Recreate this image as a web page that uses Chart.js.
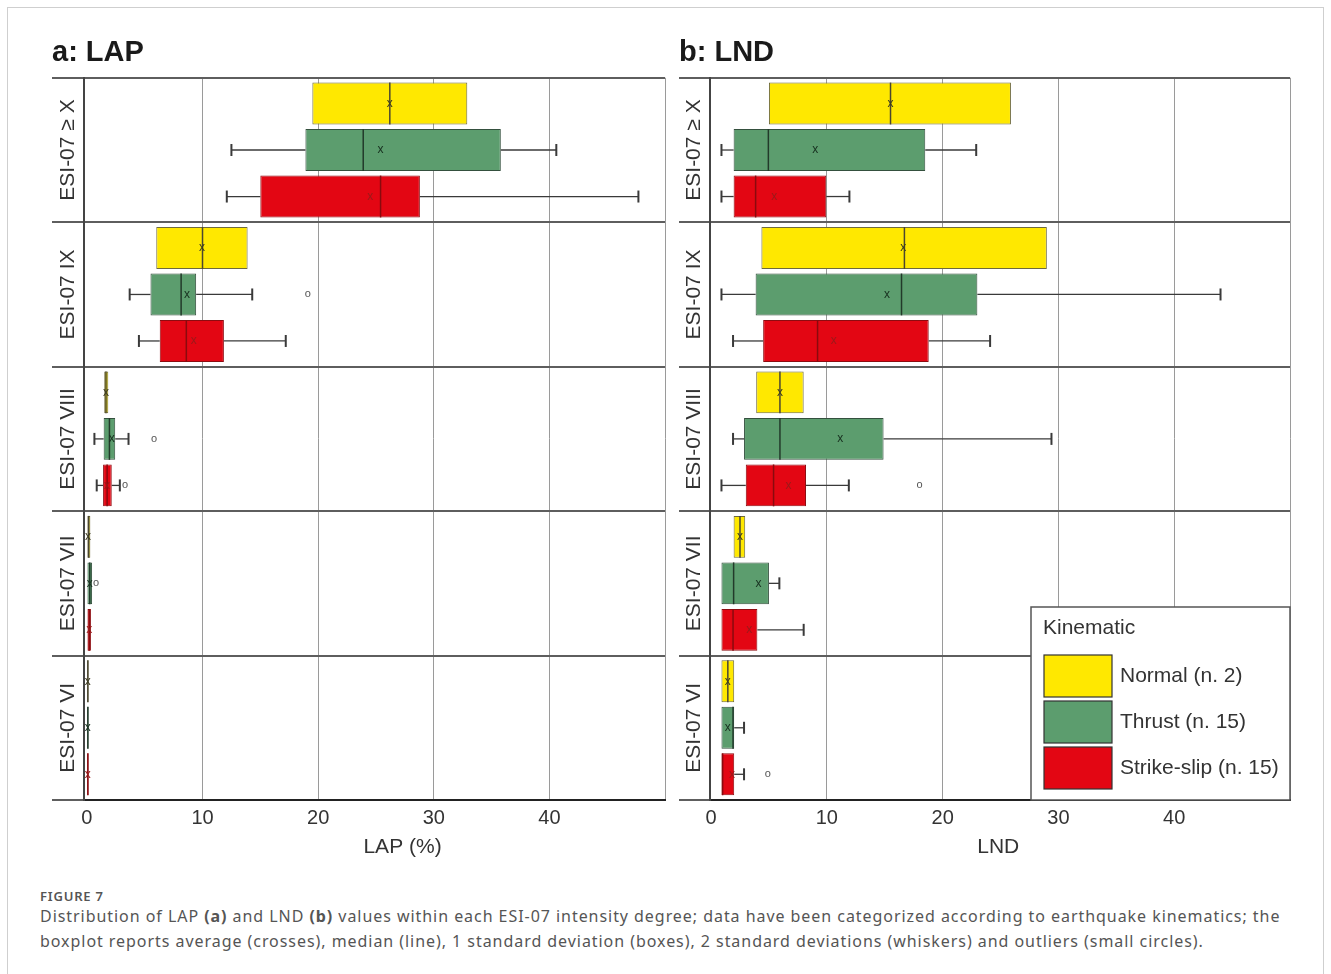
<!DOCTYPE html>
<html>
<head>
<meta charset="utf-8">
<script src="https://cdn.jsdelivr.net/npm/chart.js@4.4.1/dist/chart.umd.min.js"></script>
<style>
  body { margin: 0; background: #fff; width: 1331px; height: 974px; position: relative; overflow: hidden; }
  #frame { position: absolute; left: 7px; top: 7px; width: 1315px; height: 1000px; border: 1px solid #cfcfcf; }
  canvas { position: absolute; }
  #lapChart { left: 40px; top: 20px; }
  #lndChart { left: 668px; top: 20px; }
  .fig-label { position: absolute; left: 40px; top: 887px; font: 600 13px "Noto Sans", "Open Sans", sans-serif; color: #555; letter-spacing: 0.8px; }
  .caption { position: absolute; left: 40px; top: 904px; width: 1280px; font: 16px/25px "Noto Sans", "Open Sans", sans-serif; color: #555; white-space: nowrap; letter-spacing: 0.95px; }
</style>
</head>
<body>
<div id="frame"></div>
<canvas id="lapChart" width="640" height="850"></canvas>
<canvas id="lndChart" width="640" height="850"></canvas>
<div class="fig-label">FIGURE 7</div>
<div class="caption">Distribution of LAP <b>(a)</b> and LND <b>(b)</b> values within each ESI-07 intensity degree; data have been categorized according to earthquake kinematics; the<br>boxplot reports average (crosses), median (line), 1 standard deviation (boxes), 2 standard deviations (whiskers) and outliers (small circles).</div>

<script>
// intensity degrees (top to bottom) and fault kinematics
const groups = ["ESI-07 \u2265 X", "ESI-07 IX", "ESI-07 VIII", "ESI-07 VII", "ESI-07 VI"];
const kinematics = ["Normal (n. 2)", "Thrust (n. 15)", "Strike-slip (n. 15)"];
const xTicks = [0, 10, 20, 30, 40, 50];

// one row per degree: [whisker low, box low, median, mean, box high, whisker high]
const lapNormal = [
    [null, 19.5, 26.2, 26.2, 32.9, null],
    [null, 6.0, 10.0, 9.95, 13.9, null],
    [null, 1.5, 1.65, 1.65, 1.85, null],
    [null, 0.0, 0.15, 0.1, 0.3, null],
    [null, 0.0, 0.08, 0.08, 0.15, null]
];
const lapThrust = [
    [12.5, 18.9, 23.9, 25.4, 35.8, 40.6],
    [3.7, 5.5, 8.15, 8.65, 9.45, 14.3],
    [0.65, 1.45, 1.95, 2.15, 2.45, 3.6],
    [null, 0.05, 0.25, 0.25, 0.45, null],
    [null, 0.0, 0.08, 0.08, 0.15, null]
];
const lapStrikeSlip = [
    [12.1, 15.0, 25.4, 24.5, 28.8, 47.7],
    [4.5, 6.3, 8.6, 9.25, 11.85, 17.2],
    [0.85, 1.4, 1.75, 1.75, 2.15, 2.85],
    [null, 0.05, 0.2, 0.2, 0.35, null],
    [null, 0.0, 0.08, 0.08, 0.15, null]
];
const lapOutliers = [
    [null, null, null, null, null],
    [null, 19.1, 5.8, 0.8, null],
    [null, null, 3.3, null, null]
];

const lndNormal = [
    [null, 5.0, 15.5, 15.5, 25.9, null],
    [null, 4.35, 16.7, 16.6, 29.0, null],
    [null, 3.9, 5.95, 5.95, 8.0, null],
    [null, 1.95, 2.5, 2.5, 2.95, null],
    [null, 0.9, 1.45, 1.45, 2.0, null]
];
const lndThrust = [
    [0.9, 1.95, 4.95, 9.0, 18.5, 22.9],
    [0.9, 3.85, 16.45, 15.2, 23.0, 44.0],
    [1.9, 2.85, 5.95, 11.15, 14.9, 29.4],
    [null, 0.9, 1.95, 4.1, 5.0, 5.9],
    [null, 0.9, 1.9, 1.45, 2.0, 2.85]
];
const lndStrikeSlip = [
    [0.9, 1.95, 3.85, 5.45, 9.95, 11.95],
    [1.9, 4.5, 9.2, 10.6, 18.8, 24.1],
    [0.9, 3.0, 5.4, 6.7, 8.2, 11.9],
    [null, 0.9, 1.9, 3.3, 4.0, 8.0],
    [null, 0.9, 1.0, 1.8, 2.0, 2.85]
];
const lndOutliers = [
    [null, null, null, null, null],
    [null, null, null, null, null],
    [null, null, 18.0, null, 4.9]
];

const fillColors = ["#FFE800", "#5C9D6E", "#E30613"];
const edgeColors = ["#6e6a3c", "#34503e", "#8e0b10"];
const medianColors = ["#4a4630", "#223a2a", "#8a0a0e"];
const markColors = ["#3b3a20", "#17301f", "#9a1a1a"];

Chart.defaults.font.family = "'Liberation Sans', Arial, sans-serif";
Chart.defaults.color = "#333";

// whiskers, medians, means and outliers on top of the floating bars
const boxExtras = {
    id: "boxExtras",
    afterDatasetsDraw(chart) {
        const ctx = chart.ctx;
        const xs = chart.scales.x;
        chart.data.datasets.forEach((ds, i) => {
            const meta = chart.getDatasetMeta(i);
            meta.data.forEach((bar, j) => {
                const [lo, q1, med, mean, q3, hi] = ds.stats[j];
                const y = bar.y, h = bar.height;
                ctx.save();
                ctx.strokeStyle = "#3a3a3a";
                ctx.lineWidth = 1.3;
                if (lo != null) {
                    ctx.beginPath();
                    ctx.moveTo(xs.getPixelForValue(lo), y);
                    ctx.lineTo(xs.getPixelForValue(q1), y);
                    ctx.stroke();
                    ctx.lineWidth = 2;
                    ctx.beginPath();
                    ctx.moveTo(xs.getPixelForValue(lo), y - 6);
                    ctx.lineTo(xs.getPixelForValue(lo), y + 6);
                    ctx.stroke();
                    ctx.lineWidth = 1.3;
                }
                if (hi != null) {
                    ctx.beginPath();
                    ctx.moveTo(xs.getPixelForValue(q3), y);
                    ctx.lineTo(xs.getPixelForValue(hi), y);
                    ctx.stroke();
                    ctx.lineWidth = 2;
                    ctx.beginPath();
                    ctx.moveTo(xs.getPixelForValue(hi), y - 6);
                    ctx.lineTo(xs.getPixelForValue(hi), y + 6);
                    ctx.stroke();
                }
                // median line
                ctx.strokeStyle = medianColors[i];
                ctx.lineWidth = 1.5;
                ctx.beginPath();
                ctx.moveTo(xs.getPixelForValue(med), y - h / 2);
                ctx.lineTo(xs.getPixelForValue(med), y + h / 2);
                ctx.stroke();
                // mean cross
                ctx.fillStyle = markColors[i];
                ctx.font = "12px 'Liberation Sans', Arial, sans-serif";
                ctx.textAlign = "center";
                ctx.textBaseline = "middle";
                ctx.fillText("x", xs.getPixelForValue(mean), y);
                // outlier
                const out = ds.outliers[j];
                if (out != null) {
                    ctx.fillStyle = "#555";
                    ctx.font = "11px 'Liberation Sans', Arial, sans-serif";
                    ctx.fillText("o", xs.getPixelForValue(out), y);
                }
                ctx.restore();
            });
        });
    },
    afterDraw(chart, args, opts) {
        const ctx = chart.ctx;
        const ys = chart.scales.y;
        const xs = chart.scales.x;
        ctx.save();
        ctx.fillStyle = "#333";
        ctx.font = "21px 'Liberation Sans', Arial, sans-serif";
        ctx.textAlign = "center";
        ctx.textBaseline = "middle";
        // vertical degree labels
        groups.forEach((g, j) => {
            ctx.save();
            ctx.translate((ys.left + ys.right) / 2, ys.getPixelForValue(j));
            ctx.rotate(-Math.PI / 2);
            ctx.fillText(g, 0, 0);
            ctx.restore();
        });
        // x axis title
        ctx.fillText(opts.title, xs.getPixelForValue(opts.titleAt), xs.bottom - 23);
        ctx.restore();
    }
};

// legend box drawn inside the LND plot
const insideLegend = {
    id: "insideLegend",
    afterDraw(chart, args, opts) {
        if (!opts.show) return;
        const ctx = chart.ctx;
        const a = chart.chartArea;
        const w = 259, h = 193;
        const left = a.right - w, top = a.bottom - h;
        ctx.save();
        ctx.fillStyle = "#fff";
        ctx.fillRect(left, top, w, h);
        ctx.strokeStyle = "#555";
        ctx.lineWidth = 1.5;
        ctx.strokeRect(left, top, w, h);
        ctx.fillStyle = "#333";
        ctx.font = "21px 'Liberation Sans', Arial, sans-serif";
        ctx.textBaseline = "middle";
        ctx.textAlign = "left";
        ctx.fillText("Kinematic", left + 12, top + 21);
        chart.data.datasets.forEach((ds, i) => {
            const sy = top + 48 + i * 46;
            ctx.fillStyle = ds.backgroundColor;
            ctx.fillRect(left + 13, sy, 68, 42);
            ctx.strokeStyle = "#333";
            ctx.lineWidth = 1.2;
            ctx.strokeRect(left + 13, sy, 68, 42);
            ctx.fillStyle = "#333";
            ctx.fillText(ds.label, left + 89, sy + 21);
        });
        ctx.restore();
    }
};

function makePanel(canvasId, title, axisTitle, axisTitleAt, minX, seriesList, outliers, pad, axisWidth, showLegend) {
    const datasets = seriesList.map((rows, i) => ({
        label: kinematics[i],
        data: rows.map(r => [r[1], r[4]]),
        stats: rows,
        outliers: outliers[i],
        backgroundColor: fillColors[i],
        borderColor: edgeColors[i],
        borderWidth: 1,
        borderSkipped: false,
        categoryPercentage: 0.966,
        barPercentage: 0.9
    }));

    return new Chart(document.getElementById(canvasId), {
        type: "bar",
        data: { labels: groups, datasets: datasets },
        options: {
            indexAxis: "y",
            responsive: false,
            animation: false,
            devicePixelRatio: 1,
            layout: { padding: { left: pad.left, right: pad.right, top: 0, bottom: 0 } },
            plugins: {
                legend: { display: false },
                tooltip: { enabled: false },
                title: {
                    display: true,
                    text: title,
                    align: "start",
                    color: "#1a1a1a",
                    font: { size: 29, weight: "bold" },
                    padding: { top: 16, bottom: 7 }
                },
                boxExtras: { title: axisTitle, titleAt: axisTitleAt },
                insideLegend: { show: showLegend }
            },
            scales: {
                x: {
                    type: "linear",
                    position: "bottom",
                    min: minX,
                    max: 50,
                    afterBuildTicks: s => { s.ticks = xTicks.map(v => ({ value: v })); },
                    afterFit: s => { s.height = 70; },
                    ticks: {
                        callback: v => (v === 50 ? "" : v),
                        font: { size: 20 },
                        color: "#333",
                        padding: 6,
                        maxRotation: 0,
                        autoSkip: false
                    },
                    grid: {
                        color: c => (c.tick && c.tick.value === 0 ? "rgba(0,0,0,0)" : "#9a9a9a"),
                        lineWidth: 1,
                        drawTicks: false
                    },
                    border: { display: true, color: "#222", width: 2 }
                },
                y: {
                    type: "category",
                    offset: true,
                    afterFit: s => { s.width = axisWidth; },
                    ticks: { display: false },
                    grid: { offset: true, color: "#5e5e5e", lineWidth: 2, drawTicks: true, tickLength: axisWidth },
                    border: { display: true, color: "#444", width: 2 }
                }
            }
        },
        plugins: [boxExtras, insideLegend]
    });
}

makePanel("lapChart", "a: LAP", "LAP (%)", 27.3, -0.25,
    [lapNormal, lapThrust, lapStrikeSlip], lapOutliers, { left: 12, right: 15 }, 32, false);
makePanel("lndChart", "b: LND", "LND", 24.8, -0.09,
    [lndNormal, lndThrust, lndStrikeSlip], lndOutliers, { left: 11, right: 18 }, 31, true);
</script>
</body>
</html>
